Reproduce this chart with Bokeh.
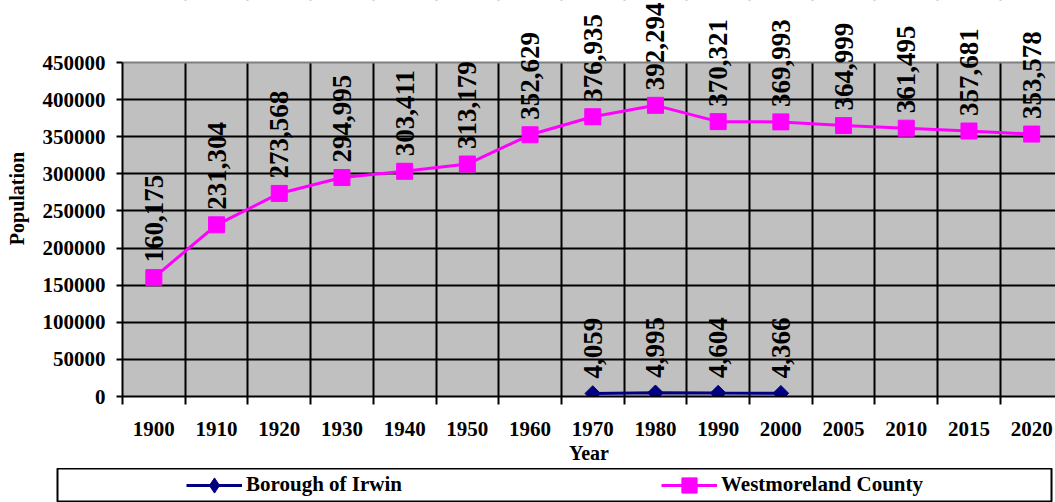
import numpy as np
from bokeh.plotting import figure
from bokeh.layouts import column
from bokeh.models import (ColumnDataSource, LabelSet, FixedTicker, Legend, LegendItem,
                          Range1d, BoxAnnotation, Span, NumeralTickFormatter)
from bokeh.embed import file_html
from bokeh.resources import INLINE

# ---- data ----
years = ["1900", "1910", "1920", "1930", "1940", "1950", "1960", "1970",
         "1980", "1990", "2000", "2005", "2010", "2015", "2020"]
county = [160175, 231304, 273568, 294995, 303411, 313179, 352629, 376935,
          392294, 370321, 369993, 364999, 361495, 357681, 353578]
irwin_years = ["1970", "1980", "1990", "2000"]
irwin = [4059, 4995, 4604, 4366]
y_ticks = [0, 50000, 100000, 150000, 200000, 250000, 300000, 350000, 400000, 450000]

FONT = "Liberation Serif"
GRAY = "#C0C0C0"
MAGENTA = "#FF00FF"
NAVY = "#000080"

xc = list(range(len(years)))
xi = [years.index(y) for y in irwin_years]
bounds = [i - 0.5 for i in range(len(years) + 1)]
y_max = y_ticks[-1]

src_c = ColumnDataSource(dict(x=xc, y=county, label=[f"{v:,}" for v in county]))
src_i = ColumnDataSource(dict(x=xi, y=irwin, label=[f"{v:,}" for v in irwin]))

MAIN_H = 468

# main plot: frame reaches to the top so the rotated value labels are not clipped
p = figure(width=1055, height=MAIN_H,
           x_range=Range1d(-0.5, 14.38), y_range=Range1d(0, y_max * 396 / 334),
           output_backend="svg", toolbar_location=None,
           min_border_left=122, min_border_right=0, min_border_top=0,
           min_border_bottom=MAIN_H - 396)
p.background_fill_color = "white"
p.border_fill_color = "white"
p.outline_line_color = None

# gray plot area (0 .. 450000)
p.add_layout(BoxAnnotation(bottom=0, top=y_max, fill_color=GRAY, fill_alpha=1,
                           line_color=None, level="image"))

# grids
p.xgrid.ticker = FixedTicker(ticks=bounds)
p.xgrid.grid_line_color = "black"
p.xgrid.grid_line_width = 2
p.ygrid.ticker = FixedTicker(ticks=y_ticks[:-1])
p.ygrid.grid_line_color = "black"
p.ygrid.grid_line_width = 2

# hide grid above the plot area, and draw its gray top border
p.add_layout(BoxAnnotation(bottom=y_max, fill_color="white", fill_alpha=1,
                           line_color=None, level="underlay"))
p.add_layout(Span(location=y_max, dimension="width", line_color="#808080",
                  line_width=2, level="underlay"))

# x axis
xa = p.xaxis[0]
xa.ticker = FixedTicker(ticks=xc, minor_ticks=bounds)
xa.major_label_overrides = {i: y for i, y in enumerate(years)}
xa.major_tick_out = 8
xa.major_tick_in = 0
xa.major_tick_line_color = None
xa.minor_tick_out = 8
xa.minor_tick_in = 0
xa.minor_tick_line_color = "black"
xa.minor_tick_line_width = 2
xa.axis_line_color = "black"
xa.axis_line_width = 2
xa.major_label_standoff = 17
xa.major_label_text_font = FONT
xa.major_label_text_font_style = "bold"
xa.major_label_text_font_size = "21px"
xa.major_label_text_color = "black"
xa.axis_label = "Year"
xa.axis_label_text_font = FONT
xa.axis_label_text_font_style = "bold"
xa.axis_label_text_font_size = "20px"
xa.axis_label_text_color = "black"
xa.axis_label_standoff = 3

# y axis
ya = p.yaxis[0]
ya.ticker = FixedTicker(ticks=y_ticks)
ya.bounds = (0, y_max)
ya.formatter = NumeralTickFormatter(format="0")
ya.major_tick_out = 6
ya.major_tick_in = 0
ya.major_tick_line_color = "black"
ya.major_tick_line_width = 2
ya.minor_tick_line_color = None
ya.axis_line_color = "black"
ya.axis_line_width = 2
ya.major_label_standoff = 11
ya.major_label_text_font = FONT
ya.major_label_text_font_style = "bold"
ya.major_label_text_font_size = "21px"
ya.major_label_text_color = "black"
ya.axis_label = "Population"
ya.axis_label_text_font = FONT
ya.axis_label_text_font_style = "bold"
ya.axis_label_text_font_size = "20px"
ya.axis_label_text_color = "black"
ya.axis_label_standoff = 12

# series
p.line("x", "y", source=src_c, line_color=MAGENTA, line_width=3)
p.scatter("x", "y", source=src_c, marker="square", size=16,
          fill_color=MAGENTA, line_color=MAGENTA)
p.line("x", "y", source=src_i, line_color=NAVY, line_width=3)
p.scatter("x", "y", source=src_i, marker="square", angle=np.pi / 4, size=11,
          fill_color=NAVY, line_color=NAVY)

for src in (src_c, src_i):
    p.add_layout(LabelSet(x="x", y="y", text="label", source=src, angle=np.pi / 2,
                          text_align="left", text_baseline="middle", y_offset=15,
                          text_font=FONT, text_font_style="bold", text_font_size="27px",
                          text_color="black"))

# legend strip (its frame is the legend box)
lg = figure(width=1055, height=502 - MAIN_H, x_range=Range1d(0, 1), y_range=Range1d(0, 1),
            x_axis_type=None, y_axis_type=None,
            output_backend="svg", toolbar_location=None,
            min_border_left=57, min_border_right=4, min_border_top=0, min_border_bottom=1)
lg.outline_line_color = "black"
lg.outline_line_width = 2
lg.background_fill_color = "white"
lg.border_fill_color = "white"
lg.grid.visible = False

for fig in (p, lg):
    if "frame_align" in fig.properties():
        fig.frame_align = False

li = lg.line("x", "y", source=src_i, line_color=NAVY, line_width=3)
si = lg.scatter("x", "y", source=src_i, marker="diamond", size=16,
                fill_color=NAVY, line_color=NAVY)
lc = lg.line("x", "y", source=src_c, line_color=MAGENTA, line_width=3)
scc = lg.scatter("x", "y", source=src_c, marker="square", size=16,
                 fill_color=MAGENTA, line_color=MAGENTA)

legend = Legend(items=[LegendItem(label="Borough of Irwin", renderers=[li, si]),
                       LegendItem(label="Westmoreland County", renderers=[lc, scc])],
                location=(129, -2.5), orientation="horizontal",
                glyph_width=56, glyph_height=38, label_standoff=4, label_width=170,
                spacing=245, padding=0, margin=0,
                border_line_color=None, background_fill_alpha=0,
                label_text_font=FONT, label_text_font_style="bold",
                label_text_font_size="21px", label_text_color="black")
lg.add_layout(legend, "center")

layout = column(p, column(lg), spacing=0)
open("out.html", "w").write(file_html(layout, INLINE))
